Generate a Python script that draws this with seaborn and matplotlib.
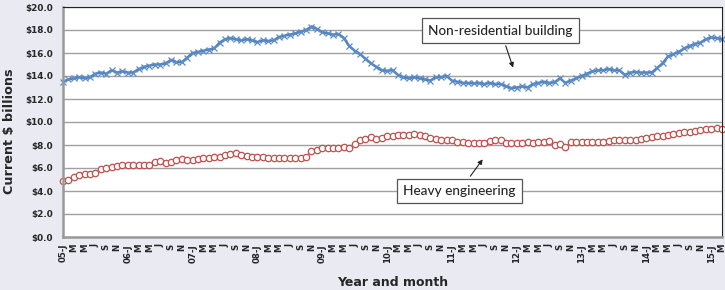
import pandas as pd
import matplotlib.pyplot as plt
import seaborn as sns

# monthly values, Jan 2005 - Mar 2015 ($ billions)
non_residential = [
    13.5, 13.7, 13.8, 13.9, 13.8, 13.9, 14.2, 14.3, 14.2, 14.5, 14.3, 14.4,
    14.3, 14.3, 14.6, 14.8, 14.9, 15.0, 15.0, 15.1, 15.4, 15.2, 15.2, 15.6,
    16.0, 16.1, 16.2, 16.3, 16.4, 16.9, 17.2, 17.3, 17.2, 17.1, 17.2, 17.1,
    16.95, 17.1, 17.05, 17.1, 17.4, 17.5, 17.6, 17.7, 17.85, 18.0, 18.3, 18.1,
    17.8, 17.7, 17.6, 17.65, 17.3, 16.6, 16.2, 15.9, 15.5, 15.1, 14.8, 14.5,
    14.45, 14.5, 14.1, 13.9, 13.8, 13.9, 13.8, 13.7, 13.6, 13.9, 13.9, 14.0,
    13.6, 13.5, 13.4, 13.4, 13.35, 13.4, 13.3, 13.4, 13.3, 13.3, 13.1, 12.95,
    13.0, 13.1, 13.0, 13.3, 13.4, 13.5, 13.4, 13.45, 13.8, 13.4, 13.6, 13.8,
    14.0, 14.2, 14.4, 14.5, 14.5, 14.6, 14.5, 14.5, 14.1, 14.3, 14.35, 14.3,
    14.3, 14.3, 14.7, 15.1, 15.7, 15.9, 16.1, 16.4, 16.6, 16.8, 16.9, 17.2,
    17.35, 17.3, 17.2,
]

heavy_engineering = [
    4.9, 5.0, 5.2, 5.35, 5.5, 5.5, 5.6, 5.95, 6.0, 6.1, 6.15, 6.3,
    6.3, 6.3, 6.25, 6.25, 6.3, 6.55, 6.6, 6.4, 6.5, 6.7, 6.75, 6.7,
    6.7, 6.8, 6.85, 6.9, 6.95, 7.0, 7.15, 7.25, 7.3, 7.1, 7.05, 7.0,
    7.0, 6.95, 6.9, 6.85, 6.85, 6.85, 6.85, 6.85, 6.9, 7.0, 7.45, 7.6,
    7.7, 7.7, 7.75, 7.7, 7.85, 7.7, 8.1, 8.4, 8.55, 8.7, 8.5, 8.6,
    8.8, 8.8, 8.85, 8.85, 8.9, 9.0, 8.9, 8.8, 8.6, 8.5, 8.45, 8.45,
    8.4, 8.3, 8.25, 8.2, 8.2, 8.15, 8.2, 8.35, 8.4, 8.45, 8.2, 8.2,
    8.2, 8.2, 8.25, 8.2, 8.25, 8.3, 8.35, 8.0, 8.05, 7.8, 8.3, 8.25,
    8.25, 8.25, 8.25, 8.3, 8.3, 8.35, 8.4, 8.4, 8.4, 8.45, 8.45, 8.5,
    8.6, 8.7, 8.75, 8.8, 8.9, 8.95, 9.05, 9.1, 9.15, 9.2, 9.3, 9.35,
    9.4, 9.45, 9.4,
]

years = ["05", "06", "07", "08", "09", "10", "11", "12", "13", "14", "15"]
month_letters = ["J", "", "M", "", "M", "", "J", "", "S", "", "N", ""]

tick_labels = []
for y in years:
    for k, m in enumerate(month_letters):
        tick_labels.append(y + "-J" if k == 0 else m)
tick_labels = tick_labels[:len(non_residential)]

months = list(range(len(non_residential)))
df = pd.DataFrame({
    "month": months + months,
    "value": non_residential + heavy_engineering,
    "series": ["Non-residential building"] * len(months) + ["Heavy engineering"] * len(months),
})

sns.set_theme(style="white")
plt.rcParams["font.family"] = ["DejaVu Sans"]

fig = plt.figure(figsize=(7.25, 2.9), dpi=100, facecolor="#EAEAF2")
ax = fig.add_axes([63 / 725, 1 - 237 / 290, (722 - 63) / 725, (237 - 7) / 290])
ax.set_facecolor("white")

sns.lineplot(
    data=df[df["series"] == "Non-residential building"],
    x="month", y="value", ax=ax,
    color="#4F81BD", linewidth=1.8,
    marker="x", markersize=3.8, markeredgewidth=0.9,
    markeredgecolor="#5B8CC6", clip_on=False,
)
sns.lineplot(
    data=df[df["series"] == "Heavy engineering"],
    x="month", y="value", ax=ax,
    color="#C0504D", linewidth=0.6,
    marker="o", markersize=4.6, markeredgewidth=0.9,
    markerfacecolor="white", markeredgecolor="#C0504D", clip_on=False,
)

ax.set_xlim(0, len(months) - 1)
ax.set_ylim(0, 20)
ax.set_yticks(range(0, 21, 2))
ax.set_yticklabels([r"\$%d.0" % v for v in range(0, 21, 2)])
ax.yaxis.grid(True, color="#A0A0A0", linewidth=1.0)
ax.set_axisbelow(True)

ax.set_xticks(months)
ax.set_xticklabels(tick_labels, rotation=90, fontsize=6.2, fontweight="bold")
ax.tick_params(axis="x", length=3, width=0.6, color="#888888", pad=2)
ax.tick_params(axis="y", length=0, labelsize=6.4, pad=7)
for lab in ax.get_yticklabels():
    lab.set_fontweight("bold")

for side in ["left", "bottom"]:
    ax.spines[side].set_color("#999999")
    ax.spines[side].set_linewidth(1.8)
for side in ["top", "right"]:
    ax.spines[side].set_color("#222222")
    ax.spines[side].set_linewidth(0.8)

ax.set_xlabel("Year and month", fontsize=9, fontweight="bold")
ax.set_ylabel("Current $ billions", fontsize=9.2, fontweight="bold")
ax.xaxis.set_label_coords(0.5, -0.17)
ax.yaxis.set_label_coords(-0.072, 0.46)
if ax.get_legend():
    ax.get_legend().remove()

box = dict(boxstyle="square,pad=0.45", facecolor="white", edgecolor="#555555", linewidth=0.9)
ax.annotate("Non-residential building", xy=(83.5, 14.5), xytext=(81, 17.95),
            ha="center", va="center", fontsize=9.8, family="Lato", fontweight="medium", bbox=box,
            arrowprops=dict(arrowstyle="-|>", color="#222222", lw=0.8, mutation_scale=7))
ax.annotate("Heavy engineering", xy=(78, 6.95), xytext=(73.4, 4.0),
            ha="center", va="center", fontsize=9.8, family="Lato", fontweight="medium", bbox=box,
            arrowprops=dict(arrowstyle="-|>", color="#222222", lw=0.8, mutation_scale=7))

plt.savefig("out.png", dpi=100, facecolor=fig.get_facecolor())
